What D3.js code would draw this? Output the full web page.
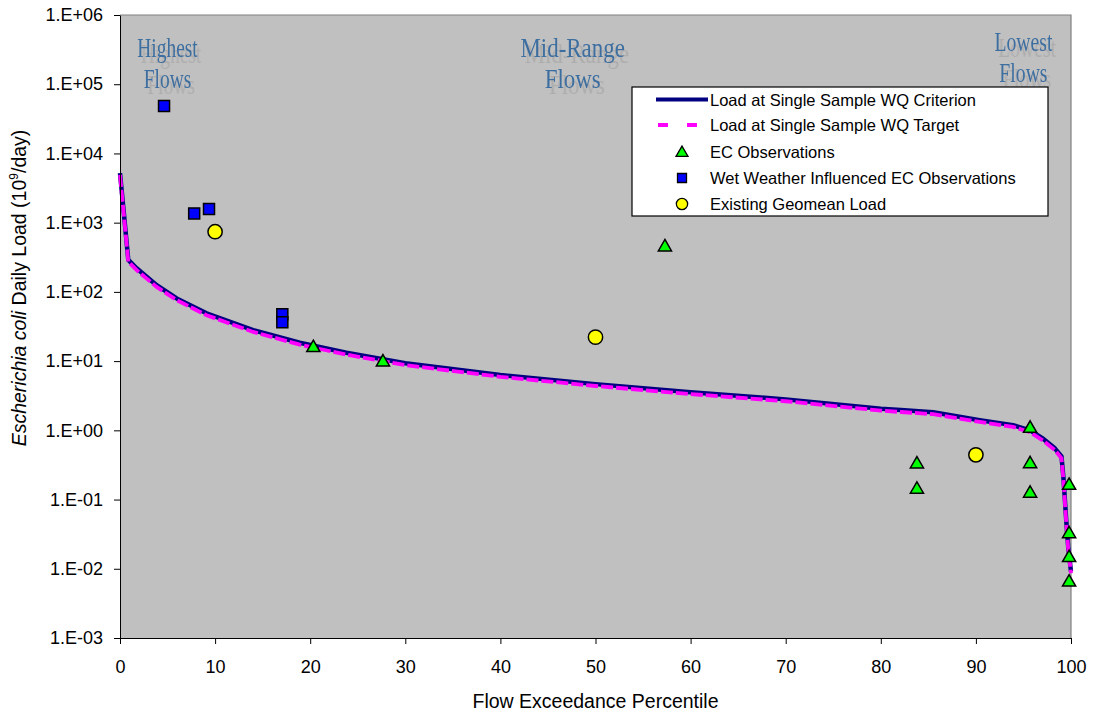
<!DOCTYPE html>
<html>
<head>
<meta charset="utf-8">
<script src="https://cdn.jsdelivr.net/npm/d3@7"></script>
<style>
  html, body { margin: 0; padding: 0; background: #ffffff; }
  svg { display: block; }
</style>
</head>
<body>
<svg id="chart" width="1095" height="715"></svg>
<script>
// ---------------- DATA ----------------
const curvePct = [0, 0.4, 0.87, 1.75, 3.85, 5.96, 9.1, 14, 18.9, 23.8, 30, 40, 50, 60, 70, 80, 82.1, 85.5, 90.4, 93.9, 95.7, 97.1, 98.3, 99.0, 99.2, 99.5, 99.7, 100];
const criterionLoad = [5200, 1400, 290, 219, 125, 80.5, 49, 28, 18.4, 13.2, 9.3, 6.3, 4.65, 3.55, 2.8, 2.05, 1.96, 1.82, 1.40, 1.19, 1.0, 0.75, 0.55, 0.42, 0.21, 0.05, 0.021, 0.0091];
const targetLoad = [4900, 1320, 273, 206, 118, 76, 46, 26.4, 17.3, 12.4, 8.75, 5.93, 4.37, 3.34, 2.63, 1.93, 1.84, 1.71, 1.32, 1.12, 0.94, 0.705, 0.52, 0.395, 0.197, 0.047, 0.0197, 0.0086];

const ecPct  = [20.33, 27.65, 57.3, 83.8, 83.8, 95.7, 95.7, 95.7, 99.8, 99.8, 99.8, 99.8];
const ecLoad = [16.1, 10.0, 459, 0.336, 0.145, 1.10, 0.339, 0.127, 0.165, 0.033, 0.0149, 0.0066];

const wetPct  = [4.63, 7.8, 9.36, 17.07, 17.07];
const wetLoad = [48400, 1360, 1575, 47.7, 36.3];

const geoPct  = [10, 50, 90];
const geoLoad = [740, 22.2, 0.443];

const xTicks = [0, 10, 20, 30, 40, 50, 60, 70, 80, 90, 100];
const yTicks = [1e-3, 1e-2, 1e-1, 1e0, 1e1, 1e2, 1e3, 1e4, 1e5, 1e6];

const zoneLabels = [
  { lines: ["Highest", "Flows"], pct: 5.0, sx: 0.72 },
  { lines: ["Mid-Range", "Flows"], pct: 47.6, sx: 0.85 },
  { lines: ["Lowest", "Flows"], pct: 95.0, sx: 0.73 }
];
const zoneBaselines = [[57, 88], [57, 88], [51, 82]];

const legendItems = [
  { label: "Load at Single Sample WQ Criterion", kind: "line" },
  { label: "Load at Single Sample WQ Target", kind: "dash" },
  { label: "EC Observations", kind: "triangle" },
  { label: "Wet Weather Influenced EC Observations", kind: "square" },
  { label: "Existing Geomean Load", kind: "circle" }
];

// ---------------- LAYOUT ----------------
const svg = d3.select("#chart");
const L = 120, R = 1071, T = 15, B = 638;
const x = d3.scaleLinear().domain([0, 100]).range([L, R]);
const y = d3.scaleLog().domain([1e-3, 1e6]).range([B, T]);

const defs = svg.append("defs");
const f = defs.append("filter").attr("id", "shadow").attr("x", "-20%").attr("y", "-20%").attr("width", "150%").attr("height", "160%");
f.append("feDropShadow").attr("dx", 5).attr("dy", 6).attr("stdDeviation", 0.6)
  .attr("flood-color", "#9c9c9c").attr("flood-opacity", 0.55);

svg.append("rect").attr("x", 0).attr("y", 0).attr("width", 1095).attr("height", 715).attr("fill", "#fff");
svg.append("rect").attr("x", L).attr("y", T).attr("width", R - L).attr("height", B - T).attr("fill", "#C0C0C0");
// top/right border
svg.append("path").attr("d", `M${L},${T}H${R}V${B}`).attr("fill", "none").attr("stroke", "#808080").attr("stroke-width", 1.2);

const fmtY = v => {
  const e = Math.round(Math.log10(v));
  return "1.E" + (e >= 0 ? "+" : "-") + String(Math.abs(e)).padStart(2, "0");
};

// zone labels (with soft shadow)
zoneLabels.forEach((z, i) => {
  z.lines.forEach((t, j) => {
    svg.append("text")
      .attr("transform", `translate(${x(z.pct)},${zoneBaselines[i][j]}) scale(${z.sx},1)`)
      .attr("text-anchor", "middle")
      .attr("font-family", "'Liberation Serif', 'Times New Roman', serif")
      .attr("font-size", 27)
      .attr("fill", "#3C6EA0")
      .attr("filter", "url(#shadow)")
      .text(t);
  });
});

// lines
const lineGen = d3.line().x(d => x(d[0])).y(d => y(d[1]));
const critData = curvePct.map((p, i) => [p, criterionLoad[i]]);
const targData = curvePct.map((p, i) => [p, targetLoad[i]]);
svg.append("path").attr("d", lineGen(critData)).attr("fill", "none")
  .attr("stroke", "#000080").attr("stroke-width", 4.5).attr("stroke-linejoin", "round");
svg.append("path").attr("d", lineGen(targData)).attr("fill", "none")
  .attr("stroke", "#FF00FF").attr("stroke-width", 3.8).attr("stroke-dasharray", "12,3");

// markers
const triSym = d3.symbol().type(d3.symbolTriangle).size(75);
const sqSym = d3.symbol().type(d3.symbolSquare).size(121);
const ciSym = d3.symbol().type(d3.symbolCircle).size(160);

svg.append("g").selectAll("path").data(wetPct.map((p, i) => [p, wetLoad[i]])).join("path")
  .attr("d", sqSym).attr("transform", d => `translate(${x(d[0])},${y(d[1])})`)
  .attr("fill", "#0000FF").attr("stroke", "#000").attr("stroke-width", 1.5);
svg.append("g").selectAll("path").data(geoPct.map((p, i) => [p, geoLoad[i]])).join("path")
  .attr("d", ciSym).attr("transform", d => `translate(${x(d[0])},${y(d[1])})`)
  .attr("fill", "#FFFF00").attr("stroke", "#000").attr("stroke-width", 1.5);
svg.append("g").selectAll("path").data(ecPct.map((p, i) => [p, ecLoad[i]])).join("path")
  .attr("d", triSym).attr("transform", d => `translate(${x(d[0])},${y(d[1]) + 1})`)
  .attr("fill", "#00FF00").attr("stroke", "#000").attr("stroke-width", 1.5);

// axes
const yAxis = d3.axisLeft(y).tickValues(yTicks).tickFormat(fmtY).tickSize(6).tickSizeOuter(0).tickPadding(11);
const gy = svg.append("g").attr("transform", `translate(${L},0)`).call(yAxis);
gy.selectAll("text").attr("font-family", "Arial, 'Liberation Sans', sans-serif").attr("font-size", 18).attr("fill", "#000");
gy.selectAll("line, path").attr("stroke", "#000");

const xAxis = d3.axisBottom(x).tickValues(xTicks).tickFormat(d3.format("d")).tickSize(6).tickSizeOuter(0).tickPadding(16);
const gx = svg.append("g").attr("transform", `translate(0,${B})`).call(xAxis);
gx.selectAll("text").attr("font-family", "Arial, 'Liberation Sans', sans-serif").attr("font-size", 18).attr("fill", "#000");
gx.selectAll("line, path").attr("stroke", "#000");

// axis titles
svg.append("text").attr("x", (L + R) / 2).attr("y", 708).attr("text-anchor", "middle")
  .attr("font-family", "Arial, 'Liberation Sans', sans-serif").attr("font-size", 19.5).attr("fill", "#000")
  .text("Flow Exceedance Percentile");

const yt = svg.append("text").attr("transform", "translate(26,288) rotate(-90)").attr("text-anchor", "middle")
  .attr("font-family", "Arial, 'Liberation Sans', sans-serif").attr("font-size", 19.5).attr("fill", "#000");
yt.append("tspan").attr("font-style", "italic").text("Escherichia coli");
yt.append("tspan").text(" Daily Load (10");
yt.append("tspan").attr("font-size", 12).attr("dy", -8).text("9");
yt.append("tspan").attr("dy", 8).text("/day)");

// legend
const lg = svg.append("g");
lg.append("rect").attr("x", 632).attr("y", 87).attr("width", 416).attr("height", 129)
  .attr("fill", "#fff").attr("stroke", "#000").attr("stroke-width", 1.2);
const rowY = [99.5, 125, 152, 178, 204];
legendItems.forEach((it, i) => {
  const ry = rowY[i];
  if (it.kind === "line") {
    lg.append("line").attr("x1", 656).attr("x2", 708).attr("y1", ry).attr("y2", ry)
      .attr("stroke", "#000080").attr("stroke-width", 4);
  } else if (it.kind === "dash") {
    lg.append("line").attr("x1", 658).attr("x2", 698).attr("y1", ry).attr("y2", ry)
      .attr("stroke", "#FF00FF").attr("stroke-width", 4).attr("stroke-dasharray", "10,19");
  } else {
    let sym, fill, dy = 0;
    if (it.kind === "triangle") { sym = d3.symbol().type(d3.symbolTriangle).size(62); fill = "#00FF00"; dy = 1; }
    else if (it.kind === "square") { sym = d3.symbol().type(d3.symbolSquare).size(81); fill = "#0000FF"; }
    else { sym = d3.symbol().type(d3.symbolCircle).size(100); fill = "#FFFF00"; }
    lg.append("path").attr("d", sym())
      .attr("transform", `translate(682,${ry + dy})`)
      .attr("fill", fill).attr("stroke", "#000").attr("stroke-width", 1.3);
  }
  lg.append("text").attr("x", 710).attr("y", ry + 6)
    .attr("font-family", "Arial, 'Liberation Sans', sans-serif").attr("font-size", 16.5).attr("fill", "#000")
    .text(it.label);
});
</script>
</body>
</html>
